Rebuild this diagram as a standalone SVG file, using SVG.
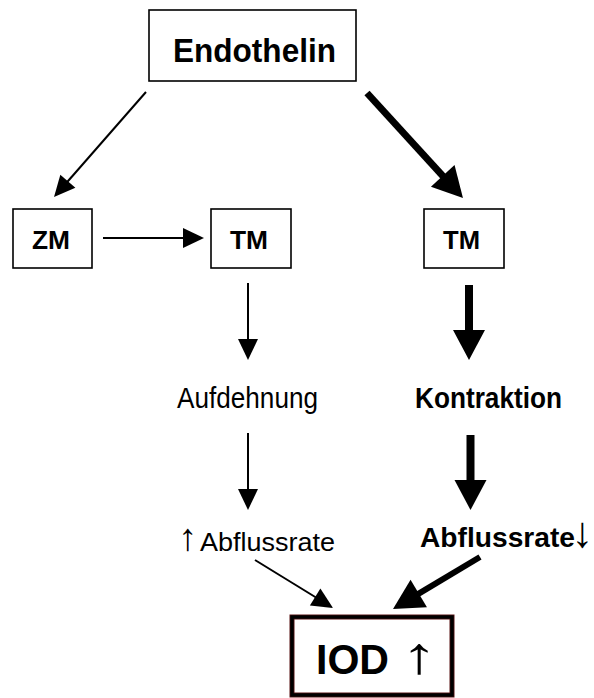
<svg xmlns="http://www.w3.org/2000/svg" width="594" height="698" viewBox="0 0 594 698">
<style>
  .box { fill: #fff; stroke: #000; stroke-width: 1.6; }
  .t { font-family: "Liberation Sans", Arial, Helvetica, sans-serif; fill: #000; }
  .b { font-weight: bold; }
  .thin { stroke: #000; stroke-width: 2; fill: none; marker-end: url(#hThin); }
  .thick { stroke: #000; stroke-width: 8; fill: none; marker-end: url(#hThick); }
</style>
<defs>
  <marker id="hThin" markerUnits="userSpaceOnUse" markerWidth="21" markerHeight="20" refX="1" refY="10" orient="auto" overflow="visible">
    <path d="M0,0 L21,10 L0,20 Z" fill="#000"/>
  </marker>
  <marker id="hThick" markerUnits="userSpaceOnUse" markerWidth="30" markerHeight="32" refX="1" refY="16" orient="auto" overflow="visible">
    <path d="M0,0 L30,16 L0,32 Z" fill="#000"/>
  </marker>
</defs>
<rect width="594" height="698" fill="#fff"/>

<g id="connectors">
  <line class="thin" x1="146" y1="92" x2="67.2" y2="182"/>
  <line class="thin" x1="103" y1="238" x2="184" y2="238"/>
  <line class="thin" x1="248" y1="283" x2="248" y2="340"/>
  <line class="thin" x1="248" y1="433" x2="248" y2="490"/>
  <line class="thin" x1="255" y1="560" x2="316" y2="597.5"/>
  <line class="thick" style="stroke-width:7" x1="367" y1="93" x2="443.4" y2="176.6"/>
  <line class="thick" x1="469" y1="285" x2="469" y2="331"/>
  <line class="thick" x1="470.5" y1="435" x2="470.5" y2="481"/>
  <line class="thick" style="stroke-width:6" x1="480" y1="557" x2="417.9" y2="594.1"/>
</g>

<g id="endothelin">
  <rect class="box" x="149" y="10" width="207" height="71"/>
  <text class="t b" x="173" y="62" font-size="34" textLength="163" lengthAdjust="spacingAndGlyphs">Endothelin</text>
</g>
<g id="zm">
  <rect class="box" x="13" y="209" width="79" height="59"/>
  <text class="t b" x="32" y="249" font-size="25" textLength="38" lengthAdjust="spacingAndGlyphs">ZM</text>
</g>
<g id="tm-left">
  <rect class="box" x="211" y="209" width="80" height="59"/>
  <text class="t b" x="230" y="249" font-size="25" textLength="38" lengthAdjust="spacingAndGlyphs">TM</text>
</g>
<g id="tm-right">
  <rect class="box" x="424" y="209" width="80" height="59"/>
  <text class="t b" x="443" y="249" font-size="25" textLength="37" lengthAdjust="spacingAndGlyphs">TM</text>
</g>
<g id="aufdehnung">
  <text class="t" x="177" y="408" font-size="30" textLength="141" lengthAdjust="spacingAndGlyphs">Aufdehnung</text>
</g>
<g id="kontraktion">
  <text class="t b" x="415" y="408" font-size="30" textLength="147" lengthAdjust="spacingAndGlyphs">Kontraktion</text>
</g>
<g id="abfluss-up">
  <text class="t" x="178" y="550" font-size="38">↑</text>
  <text class="t" x="200" y="551" font-size="26" textLength="135" lengthAdjust="spacingAndGlyphs">Abflussrate</text>
</g>
<g id="abfluss-down">
  <text class="t b" x="420" y="547" font-size="27" textLength="155" lengthAdjust="spacingAndGlyphs">Abflussrate</text>
  <text class="t b" x="593" y="547" font-size="43" text-anchor="end">↓</text>
</g>
<g id="iod">
  <rect x="292" y="617" width="160" height="78" fill="#fff" stroke="#5a1414" stroke-width="5"/>
  <rect x="292" y="617" width="160" height="78" fill="none" stroke="#000" stroke-width="3.4"/>
  <text class="t b" x="316" y="674" font-size="43" textLength="73" lengthAdjust="spacingAndGlyphs">IOD</text>
  <text class="t" transform="translate(401,673) scale(1.4,1)" x="0" y="0" font-size="52">↑</text>
</g>
</svg>
